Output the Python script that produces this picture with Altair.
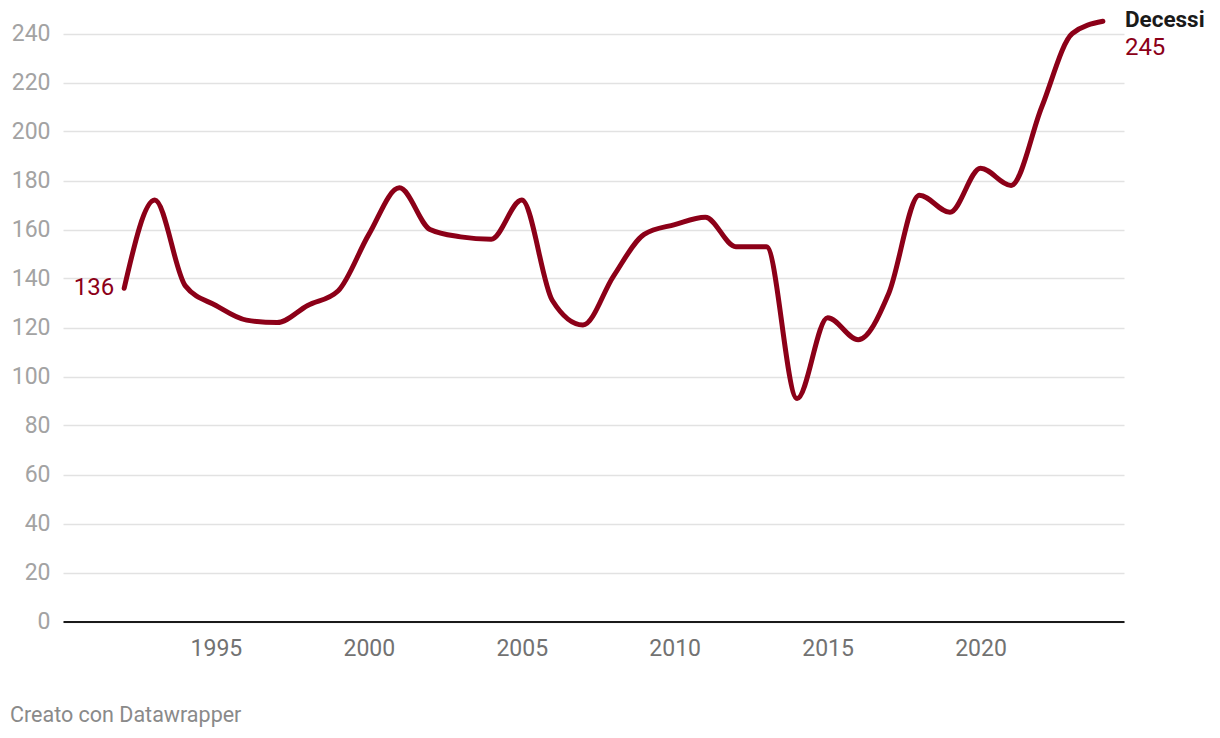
import altair as alt
import pandas as pd

years = list(range(1992, 2025))
decessi = [136, 172, 137, 129, 123, 122, 129, 135, 158, 177, 160, 157, 156, 172,
           131, 121, 141, 158, 162, 165, 153, 153, 91, 124, 115, 134, 174, 167,
           185, 178, 210, 240, 245]
series_name = "Decessi"
x_ticks = [1995, 2000, 2005, 2010, 2015, 2020]
y_ticks = list(range(0, 241, 20))
credit = "Creato con Datawrapper"

df = pd.DataFrame({"anno": years, "valore": decessi})
first = df.iloc[[0]]
last = df.iloc[[-1]].assign(nome=series_name)

RED = "#8c0018"
FONT = "Roboto"

x = alt.X("anno:Q", scale=alt.Scale(domain=[1990, 2024.69], nice=False, zero=False),
          axis=alt.Axis(values=x_ticks, format="d", title=None, grid=False, ticks=False,
                        domain=True, domainColor="#1a1a1a", domainWidth=2,
                        labelColor="#727272", labelFontSize=23, labelFont=FONT,
                        labelPadding=16))
y = alt.Y("valore:Q", scale=alt.Scale(domain=[0, 250], nice=False),
          axis=alt.Axis(values=y_ticks, title=None, grid=True, gridColor="#e2e2e2",
                        gridWidth=1.5, ticks=False, domain=False,
                        labelColor="#a3a3a3", labelFontSize=23, labelFont=FONT,
                        labelPadding=13))

line = alt.Chart(df).mark_line(color=RED, strokeWidth=5, interpolate="monotone",
                               strokeCap="round").encode(x=x, y=y)

lab_first = alt.Chart(first).mark_text(align="right", baseline="middle", dx=-10,
                                       fontSize=24, font=FONT, color=RED).encode(
    x="anno:Q", y="valore:Q", text="valore:Q")

lab_name = alt.Chart(last).mark_text(align="left", baseline="middle", dx=22, dy=-1,
                                     fontSize=22.5, font=FONT, fontWeight="bold",
                                     color="#1a1a1a").encode(
    x="anno:Q", y="valore:Q", text="nome:N")

lab_val = alt.Chart(last).mark_text(align="left", baseline="middle", dx=22, dy=27,
                                    fontSize=24, font=FONT, color=RED).encode(
    x="anno:Q", y="valore:Q", text="valore:Q")

credit_df = pd.DataFrame({"t": [credit]})
credit_mark = alt.Chart(credit_df).mark_text(align="left", baseline="middle",
                                             fontSize=21.5, font=FONT,
                                             color="#8a8a8a").encode(
    x=alt.value(-53), y=alt.value(707), text="t:N")

chart = alt.layer(line, lab_first, lab_name, lab_val, credit_mark).properties(
    width=1061, height=612.5,
    autosize=alt.AutoSizeParams(type="none"),
    padding={"left": 55, "top": 1, "right": 88, "bottom": 110},
).configure(font=FONT).configure_view(strokeWidth=0, stroke="transparent")

chart.save("out.html", embed_options={"renderer": "svg", "actions": False})
